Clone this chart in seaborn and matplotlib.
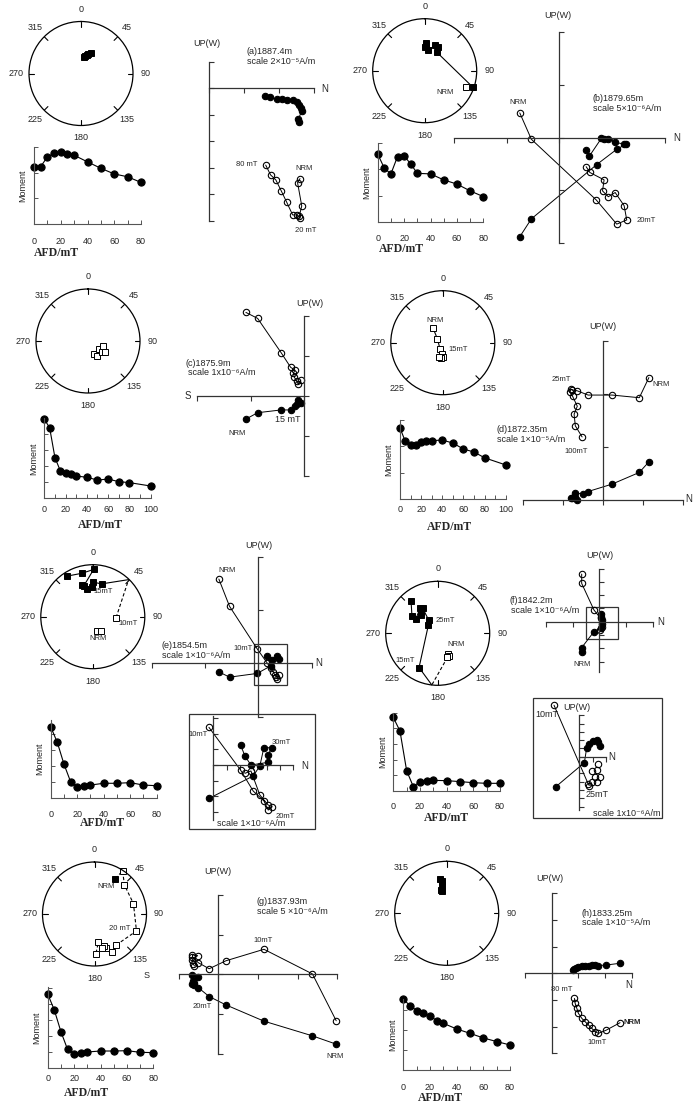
# Paläomagnetik: Stereonetz, Entmagnetisierungskurve und Zijderveld-Diagramm je Probe (a)-(h)

import numpy as np
import matplotlib
matplotlib.use("Agg")
import matplotlib.pyplot as plt
from matplotlib.patches import Rectangle
import seaborn as sns

# --- Wechselfeldstufen (mT) ---
af_80 = [0, 5, 10, 15, 20, 25, 30, 40, 50, 60, 70, 80]
af_100 = [0, 5, 10, 15, 20, 25, 30, 40, 50, 60, 70, 80, 100]

# (a) 1887.4m
a_dec = [10, 13, 17, 20, 26]
a_inc = [64, 62, 60, 57, 53]
a_moment = [2.23, 2.23, 2.62, 2.75, 2.79, 2.72, 2.68, 2.42, 2.17, 1.95, 1.84, 1.62]
a_hx = [2.58, 2.55, 2.65, 2.63, 2.58, 2.51, 2.41, 2.22, 2.08, 1.93, 1.74, 1.60]
a_hy = [-1.28, -1.18, -0.87, -0.77, -0.64, -0.53, -0.45, -0.44, -0.43, -0.42, -0.35, -0.30]
a_vx = [2.60, 2.53, 2.65, 2.58, 2.60, 2.51, 2.39, 2.22, 2.06, 1.91, 1.76, 1.62]
a_vy = [-3.42, -3.57, -4.45, -4.83, -4.92, -4.79, -4.79, -4.31, -3.87, -3.47, -3.28, -2.91]

# (b) 1879.65m
b_dec = [112, 109, 33, 30, 22, 10, 0, 3, 3]
b_inc = [-16, 2, 55, 46, 46.5, 57, 52, 49.5, 45]
b_moment = [2.59, 2.05, 1.83, 2.49, 2.52, 2.21, 1.85, 1.83, 1.60, 1.44, 1.18, 0.96]
b_vx = [-0.75, -0.53, 0.70, 1.09, 1.28, 1.23, 1.06, 0.93, 0.82, 0.85, 0.58, 0.51]
b_vy = [0.47, -0.03, -1.18, -1.64, -1.56, -1.29, -1.04, -1.12, -1.01, -0.80, -0.66, -0.55]
b_hx = [-0.75, -0.53, 0.71, 1.09, 1.27, 1.23, 1.06, 0.93, 0.85, 0.80, 0.57, 0.51]
b_hy = [-1.88, -1.54, -0.51, -0.22, -0.12, -0.12, -0.09, -0.03, -0.03, -0.01, -0.35, -0.23]

# (c) 1875.9m
c_dec = [154, 150, 127, 128, 108, 124]
c_inc = [-67, -63, -68.5, -63, -64.5, -58]
c_moment = [4.89, 4.37, 2.52, 1.71, 1.55, 1.53, 1.38, 1.30, 1.13, 1.19, 1.03, 0.97, 0.76]
c_vx = [-1.09, -0.87, -0.43, -0.25, -0.17, -0.20, -0.18, -0.14, -0.11, -0.06]
c_vy = [2.10, 1.95, 1.09, 0.72, 0.65, 0.57, 0.47, 0.38, 0.30, 0.40]
c_hx = [-1.09, -0.87, -0.43, -0.25, -0.17, -0.14, -0.09, -0.11, -0.06]
c_hy = [-0.58, -0.42, -0.35, -0.35, -0.25, -0.21, -0.14, -0.10, -0.18]

# (d) 1872.35m
d_dec = [326, 304, 203, 186, 181, 188, 193]
d_inc = [-63, -80, -79, -73, -68, -65.5, -66.5]
d_moment = [2.70, 2.19, 2.04, 2.04, 2.18, 2.22, 2.22, 2.24, 2.13, 1.90, 1.79, 1.57, 1.30]
d_vx = [1.14, 0.90, 0.22, -0.38, -0.65, -0.79, -0.81, -0.83, -0.77, -0.65, -0.73, -0.70, -0.53]
d_vy = [2.31, 1.93, 1.98, 1.98, 2.06, 2.08, 2.09, 2.04, 1.96, 1.77, 1.62, 1.40, 1.19]
d_hx = [1.14, 0.90, 0.22, -0.38, -0.52, -0.71, -0.79, -0.82, -0.72, -0.67]
d_hy = [0.72, 0.52, 0.30, 0.16, 0.11, 0.14, 0.04, 0.03, 0.06, 0.0]

# (e) 1854.5m  (Index 3 = Durchgang durch den Primitivkreis)
e_dec = [165, 152, 92, 44, 15, 1, 358, 349, 341, 344, 1, 346, 327]
e_inc = [-67, -64, -53, -1, 35, 34, 42, 45.5, 35.5, 38, 10, 15, 8]
e_moment = [4.43, 3.46, 2.12, 1.03, 0.72, 0.78, 0.82, 0.93, 0.93, 0.97, 0.82, 0.78]
e_vx = [-0.74, -0.54, -0.02, 0.17, 0.23, 0.28, 0.31, 0.34, 0.38, 0.36]
e_vy = [1.58, 1.07, 0.27, 0.0, -0.09, -0.16, -0.22, -0.25, -0.22, -0.30]
e_hx = [-0.74, -0.54, -0.02, 0.23, 0.17, 0.26, 0.36, 0.38]
e_hy = [-0.16, -0.26, -0.19, -0.05, 0.14, 0.06, 0.13, 0.09]
# Ausschnitt (e)
e_ivx = [-0.33, 2.05, 3.0, 3.8, 4.13, 4.43, 4.13, 3.5, 2.83, 2.38]
e_ivy = [2.40, -0.32, -1.66, -2.28, -2.87, -2.66, -2.55, -1.91, -0.38, -0.53]
e_ihx = [-0.33, 3.0, 3.5, 3.8, 4.43, 4.08, 4.13, 2.83, 2.38, 2.05]
e_ihy = [-2.13, -0.70, -0.06, 1.1, 1.1, 0.64, 0.17, 0.0, 0.57, 1.28]

# (f) 1842.2m
f_dec = [153, 154, 158, 186.5, 208.6, 311.7, 325.6, 329, 317.6, 324.7, 303.4, 304, 320.8]
f_inc = [-53, -49.5, -48.6, 0, 26, 70.5, 65.5, 43.5, 50.5, 40.5, 48.6, 40, 20]
f_moment = [4.70, 3.83, 1.30, 0.28, 0.60, 0.66, 0.68, 0.66, 0.60, 0.53, 0.49, 0.49]
f_vx = [-0.66, -0.66, -0.20, 0.05, 0.09, 0.03]
f_vy = [3.58, 2.88, 0.88, 0.25, -0.38, -0.63]
f_hx = [-0.66, -0.66, -0.20, 0.06, 0.11, 0.09, 0.05, 0.08]
f_hy = [-2.25, -1.95, -0.75, -0.50, -0.15, 0.10, 0.38, 0.55]
# Ausschnitt (f)
f_ivx = [-1.9, 0.68, 0.75, 1.38, 1.3, 0.93, 1.18, 1.55, 1.3, 0.93]
f_ivy = [6.2, -3.32, -3.48, -0.92, -1.6, -1.72, -2.4, -2.4, -3.08, -3.1]
f_ihx = [-1.75, 0.38, 0.55, 0.75, 1.05, 1.3, 1.43, 1.55]
f_ihy = [-3.6, -0.72, 1.0, 1.48, 1.88, 2.0, 1.8, 1.32]

# (g) 1837.93m
g_dec = [30.7, 33, 46, 75, 112, 146, 155, 161, 163.5, 168, 172, 178]
g_inc = [22, -1, -21, -23.5, -14, -28, -21, -31, -36, -34, -45, -24.5]
g_moment = [4.60, 3.61, 2.27, 1.18, 0.89, 0.93, 1.01, 1.07, 1.07, 1.09, 0.99, 0.97]
g_vx = [2.97, 2.37, 1.15, 0.19, -0.23, -0.5, -0.65, -0.65, -0.52, -0.66, -0.63, -0.6]
g_vy = [-1.17, 0.01, 0.63, 0.34, 0.14, 0.29, 0.43, 0.49, 0.47, 0.36, 0.26, 0.21]
g_hx = [2.97, 2.37, 1.15, 0.19, -0.23, -0.5, -0.65, -0.63, -0.5, -0.66, -0.6, -0.62]
g_hy = [-1.76, -1.55, -1.18, -0.77, -0.56, -0.34, -0.24, -0.18, -0.06, -0.02, -0.22, -0.27]

# (h) 1833.25m
h_dec = [349, 351, 350, 345.5, 347.6]
h_inc = [33, 37.7, 44.5, 52, 53]
h_moment = [3.53, 3.22, 2.97, 2.87, 2.70, 2.47, 2.33, 2.05, 1.83, 1.60, 1.42, 1.25]
h_hx = [2.56, 2.04, 1.75, 1.63, 1.5, 1.38, 1.25, 1.13, 1.0, 0.91, 0.84, 0.80]
h_hy = [0.375, 0.31, 0.29, 0.31, 0.31, 0.29, 0.28, 0.28, 0.25, 0.19, 0.15, 0.11]
h_vx = [2.56, 2.04, 1.75, 1.63, 1.5, 1.38, 1.25, 1.13, 1.0, 0.94, 0.88, 0.85]
h_vy = [-1.85, -2.13, -2.25, -2.19, -2.06, -1.94, -1.81, -1.69, -1.5, -1.31, -1.13, -0.94]


sns.set_theme(style="white")
plt.rcParams["font.family"] = ["Liberation Sans", "DejaVu Sans"]

W, H = 700, 1105
fig = plt.figure(figsize=(W / 100, H / 100), dpi=100)
fig.patch.set_facecolor("white")


def px_axes(l, t, w, h, **kw):
    # Achsen in Pixelkoordinaten (oben links = 0,0)
    return fig.add_axes([l / W, 1 - (t + h) / H, w / W, h / H], **kw)


# Overlay für Beschriftungen und Rahmen
ov = px_axes(0, 0, W, H)
ov.set_xlim(0, W)
ov.set_ylim(H, 0)
ov.axis("off")


def stereonet(cx, cy, dec, inc, segs, nomark=(), R=52):
    ax = px_axes(cx - R, cy - R, 2 * R, 2 * R, projection="polar")
    ax.set_theta_zero_location("N")
    ax.set_theta_direction(-1)
    ax.set_ylim(0, 1)
    ax.set_xticks([])
    ax.set_yticks([])
    ax.grid(False)
    ax.patch.set_alpha(0)
    ax.spines["polar"].set_color("black")
    ax.spines["polar"].set_linewidth(0.9)
    for a in range(0, 360, 45):
        t = np.radians(a)
        ax.plot([t, t], [0.9, 1.0], color="black", lw=0.8)
        ax.text(t, 1.24, str(a), ha="center", va="center", fontsize=6.5)
    th = np.unwrap(np.radians(dec))
    inc = np.asarray(inc, dtype=float)
    r = np.sqrt(1 - np.sin(np.radians(np.abs(inc))))  # flächentreue Projektion
    for i0, i1, ls in segs:
        kw = dict(dashes=(3, 2)) if ls == "--" else {}
        ax.plot(th[i0:i1], r[i0:i1], color="black", lw=0.8, clip_on=False, **kw)
    for i in range(len(th)):
        if i in nomark:
            continue
        ax.plot(th[i], r[i], marker="s", ms=4.2, mec="black", mew=0.7,
                mfc="black" if inc[i] >= 0 else "white", clip_on=False, ls="none")
    return ax


def demag(L, T, R_, B, field, moment, xmax, ymax, pad):
    ax = px_axes(L, T, R_ - L, B - T)
    sns.lineplot(x=field, y=moment, ax=ax, color="black", lw=0.8, marker="o",
                 ms=5.2, mec="black", mfc="black", clip_on=False)
    ax.set_xlim(0, xmax)
    ax.set_ylim(0, ymax)
    ax.patch.set_alpha(0)
    ax.spines[["top", "right"]].set_visible(False)
    for s in ["left", "bottom"]:
        ax.spines[s].set_color("#555555")
        ax.spines[s].set_linewidth(0.8)
    ticks = list(range(0, xmax + 1, 10))
    ax.set_xticks(ticks)
    ax.set_xticklabels([str(v) if v % 20 == 0 else "" for v in ticks])
    ax.set_yticks(range(0, int(ymax) + 1))
    ax.tick_params(axis="x", bottom=True, direction="in", length=3, width=0.7,
                   color="#555555", labelsize=6.5, pad=pad)
    ax.tick_params(axis="y", left=True, direction="in", length=3, width=0.7,
                   color="#555555", labelleft=False)
    ax.set_xlabel("")
    ax.set_ylabel("Moment", fontsize=6.5, labelpad=4.5)
    ax.grid(False)
    return ax


def zijderveld(ox, oy, sx, sy, xr, yr):
    ax = px_axes(ox + xr[0] * sx, oy - yr[1] * sy, (xr[1] - xr[0]) * sx, (yr[1] - yr[0]) * sy)
    ax.set_xlim(xr)
    ax.set_ylim(yr)
    ax.set_autoscale_on(False)
    ax.patch.set_alpha(0)
    ax.spines[["top", "right"]].set_visible(False)
    ax.spines["left"].set_position(("data", 0))
    ax.spines["bottom"].set_position(("data", 0))
    for s in ["left", "bottom"]:
        ax.spines[s].set_color("#333333")
        ax.spines[s].set_linewidth(0.9)
    ax.set_xticks(np.arange(np.ceil(xr[0]), np.floor(xr[1]) + 1))
    ax.set_yticks(np.arange(np.ceil(yr[0]), np.floor(yr[1]) + 1))
    ax.tick_params(axis="x", bottom=True, direction="out", length=3.5, width=0.8,
                   color="#333333", labelbottom=False)
    ax.tick_params(axis="y", left=True, direction="in", length=3.5, width=0.8,
                   color="#333333", labelleft=False)
    ax.grid(False)
    return ax


def zpath(ax, x, y, filled, line=True):
    sns.lineplot(x=x, y=y, ax=ax, sort=False, estimator=None, color="black",
                 lw=0.7 if line else 0, marker="o", ms=4.6, mec="black", mew=0.8,
                 mfc="black" if filled else "none", clip_on=False)
    ax.set_xlabel("")
    ax.set_ylabel("")


# --- Stereonetze ---
stereonet(81, 73.5, a_dec, a_inc, [(0, 5, "-")])
stereonet(424.7, 70.7, b_dec, b_inc, [(0, 9, "-")])
stereonet(88, 341, c_dec, c_inc, [])
stereonet(442.8, 342.7, d_dec, d_inc, [(0, 7, "-")])
stereonet(92.8, 616.7, e_dec, e_inc, [(2, 4, "--"), (3, 13, "-")], nomark=(3,))
stereonet(437.7, 633.3, f_dec, f_inc, [(2, 4, "--"), (3, 13, "-")], nomark=(3,))
stereonet(94.5, 914, g_dec, g_inc, [(0, 12, "--")])
stereonet(446.7, 913.3, h_dec, h_inc, [(0, 5, "-")])

# --- Entmagnetisierungskurven ---
demag(34, 147, 141, 224, af_80, a_moment, 80, 3.0, 9.4)
demag(377.7, 143.3, 483.3, 221.7, af_80, b_moment, 80, 3.0, 9.1)
demag(44.3, 418.3, 150.7, 498.3, af_100, c_moment, 100, 4.95, 4.8)
demag(400, 420, 505.7, 499.3, af_100, d_moment, 100, 3.0, 4.1)
demag(50.7, 720, 156.7, 798.3, af_80, e_moment, 80, 4.85, 8.4)
demag(393.3, 712.7, 500, 791, af_80, f_moment, 80, 5.0, 7.7)
demag(47.7, 986.7, 153.3, 1068.3, af_80, g_moment, 80, 5.05, 4.3)
demag(403.3, 999.3, 510, 1070, af_80, h_moment, 80, 3.53, 9.6)

for x, y in [(56.7, 253), (401.7, 249.3), (100, 525), (449.5, 526.7),
             (102.5, 823.3), (446.7, 818.3), (86.7, 1093.3), (440, 1098.3)]:
    ov.text(x, y, "AFD/mT", ha="center", va="center", fontsize=8.5,
            fontweight="bold", family=["Liberation Serif", "DejaVu Serif"])

# --- Zijderveld-Diagramme ---
ax = zijderveld(209, 88, 35, 26.5, (0, 3), (-5, 1))
zpath(ax, a_hx, a_hy, True)
zpath(ax, a_vx, a_vy, False)

ax = zijderveld(559.3, 137.7, 52.7, 52.7, (-2, 2), (-2, 2))
zpath(ax, b_hx, b_hy, True)
zpath(ax, b_vx, b_vy, False)

ax = zijderveld(304, 396, 53.3, 39.8, (-2, 0), (-2, 2))
zpath(ax, c_hx, c_hy, True)
zpath(ax, c_vx, c_vy, False)

ax = zijderveld(603.3, 500, 40, 53, (-2, 2), (0, 3))
zpath(ax, d_hx, d_hy, True)
zpath(ax, d_vx, d_vy, False)

ax = zijderveld(258.3, 663.3, 53.3, 53.3, (-2, 1), (-1, 2))
zpath(ax, e_hx, e_hy, True)
zpath(ax, e_vx, e_vy, False)
ax = zijderveld(213.3, 765, 13.3, 15.7, (0, 6), (-3.5, 3.1))
zpath(ax, e_ihx, e_ihy, True)
zpath(ax, e_ivx, e_ivy, False)

ax = zijderveld(599.3, 621.7, 26.7, 13.3, (-2, 2), (-3.8, 4))
zpath(ax, f_hx, f_hy, True)
zpath(ax, f_vx, f_vy, False)
ax = zijderveld(579.3, 756.7, 13.3, 8.3, (0, 2), (-6.4, 5))
zpath(ax, f_ihx, f_ihy, True)
zpath(ax, f_ivx[:3], f_ivy[:3], False)
zpath(ax, f_ivx[3:], f_ivy[3:], False, line=False)

ax = zijderveld(218.3, 974.3, 39.7, 39.7, (-1, 3), (-2, 2))
zpath(ax, g_hx, g_hy, True)
zpath(ax, g_vx, g_vy, False)

ax = zijderveld(551.7, 973.3, 26.7, 26.7, (-1, 3), (-3, 3))
zpath(ax, h_hx, h_hy, True)
zpath(ax, h_vx, h_vy, False)

# Rahmen der Ausschnitte
for (x0, y0, x1, y1) in [(189, 714, 315, 829), (254.3, 644, 286.7, 685),
                         (533.3, 698.3, 661.7, 817.7), (586, 606.7, 617.7, 639.3)]:
    ov.add_patch(Rectangle((x0, y0), x1 - x0, y1 - y0, fill=False, ec="#333333", lw=0.9))

# --- Beschriftungen (x, y, Text, Größe, Ausrichtung) ---
notes = [
    # (a)
    (207, 43, "UP(W)", 6.5, "center"), (325, 89, "N", 7, "center"),
    (246.7, 51.7, "(a)1887.4m", 6.5, "left"), (246.7, 61.7, "scale 2×10⁻⁵A/m", 6.5, "left"),
    (247, 165, "80 mT", 5.5, "center"), (304, 169, "NRM", 5.5, "center"),
    (306, 230, "20 mT", 5.5, "center"),
    # (b)
    (445, 92.7, "NRM", 5.5, "center"), (558.3, 15, "UP(W)", 6.5, "center"),
    (676.7, 137.7, "N", 7, "center"), (518.3, 102.7, "NRM", 5.5, "center"),
    (592.7, 98.3, "(b)1879.65m", 6.5, "left"), (592.7, 108.3, "scale 5×10⁻⁶A/m", 6.5, "left"),
    (646, 220, "20mT", 5.5, "center"),
    # (c)
    (310, 303.3, "UP(W)", 6.5, "center"), (187.7, 396, "S", 7, "center"),
    (185, 363.3, "(c)1875.9m", 6.5, "left"), (188, 372.7, "scale 1x10⁻⁶A/m", 6.5, "left"),
    (236.7, 433.3, "NRM", 5.5, "center"), (288, 420, "15 mT", 6.5, "center"),
    # (d)
    (435, 320, "NRM", 5.5, "center"), (458, 349.3, "15mT", 5.5, "center"),
    (603.3, 326.7, "UP(W)", 6.5, "center"), (688.3, 499.3, "N", 7, "center"),
    (561.7, 379.3, "25mT", 5.5, "center"), (575.7, 451.7, "100mT", 5.5, "center"),
    (660.7, 384, "NRM", 5.5, "center"),
    (496.7, 430, "(d)1872.35m", 6.5, "left"), (496.7, 439.5, "scale 1×10⁻⁵A/m", 6.5, "left"),
    # (e)
    (103.3, 591.7, "15mT", 5.5, "center"), (128.3, 623.3, "10mT", 5.5, "center"),
    (98.3, 638.3, "NRM", 5.5, "center"), (259.3, 546, "UP(W)", 6.5, "center"),
    (318.3, 663.3, "N", 7, "center"), (227.3, 570, "NRM", 5.5, "center"),
    (242.7, 648.3, "10mT", 5.5, "center"),
    (161.7, 646, "(e)1854.5m", 6.5, "left"), (161.7, 655.5, "scale 1×10⁻⁶A/m", 6.5, "left"),
    (197.7, 735, "10mT", 5.5, "center"), (281.7, 742.3, "30mT", 5.5, "center"),
    (305, 765.7, "N", 7, "center"), (285, 816.7, "20mT", 5.5, "center"),
    (216.7, 824, "scale 1×10⁻⁶A/m", 6.5, "left"),
    # (f)
    (445, 620.7, "25mT", 5.5, "center"), (456, 645, "NRM", 5.5, "center"),
    (405, 661, "15mT", 5.5, "center"), (600, 556, "UP(W)", 6.5, "center"),
    (660.7, 621.7, "N", 7, "center"), (581.7, 665, "NRM", 5.5, "center"),
    (509.3, 600.7, "(f)1842.2m", 6.5, "left"), (511, 610.7, "scale 1×10⁻⁶A/m", 6.5, "left"),
    (576.7, 707.7, "UP(W)", 6.5, "center"), (546.7, 714.3, "10mT", 6.5, "center"),
    (611.7, 756.7, "N", 7, "center"), (596.7, 794.3, "25mT", 6.5, "center"),
    (626.7, 813.3, "scale 1x10⁻⁶A/m", 6.5, "center"),
    # (g)
    (106, 886.7, "NRM", 5.5, "center"), (119.3, 928.3, "20 mT", 5.5, "center"),
    (146.7, 975, "S", 6.5, "center"), (218.3, 871.7, "UP(W)", 6.5, "center"),
    (256.7, 901.7, "(g)1837.93m", 6.5, "left"), (256.7, 911, "scale 5 ×10⁻⁶A/m", 6.5, "left"),
    (263.3, 940, "10mT", 5.5, "center"), (202.7, 1006.7, "20mT", 5.5, "center"),
    (335, 1056, "NRM", 5.5, "center"),
    # (h)
    (550, 878.3, "UP(W)", 6.5, "center"),
    (581.7, 913.3, "(h)1833.25m", 6.5, "left"), (581.7, 922.7, "scale 1×10⁻⁵A/m", 6.5, "left"),
    (561.7, 989.3, "80 mT", 5.5, "center"), (596.7, 1042.3, "10mT", 5.5, "center"),
    (628.3, 985, "N", 7, "center"),
]
for x, y, txt, size, ha in notes:
    ov.text(x, y, txt, ha=ha, va="center", fontsize=size)
ov.text(631.7, 1022.7, "NRM", ha="center", va="center", fontsize=5.5, fontweight="bold")

fig.savefig("out.png", dpi=100)
